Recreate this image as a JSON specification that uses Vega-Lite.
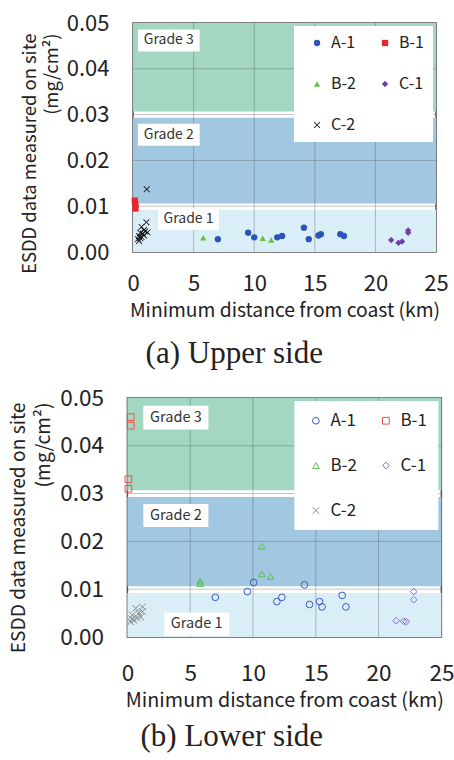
{
  "$schema": "https://vega.github.io/schema/vega-lite/v6.json",
  "background": "white",
  "padding": {"left": 8, "top": 11, "right": 0, "bottom": 0},
  "spacing": 15,
  "center": true,
  "resolve": {"scale": {"color": "independent", "shape": "independent", "fill": "independent"}, "legend": {"color": "independent", "shape": "independent", "fill": "independent"}},
  "config": {
    "font": "Noto Sans CJK JP",
    "view": {"stroke": "#555555", "strokeWidth": 1.5},
    "axis": {"domain": false, "ticks": false, "tickSize": 0, "grid": false, "labelFlush": false, "labelColor": "#222222", "titleColor": "#222222", "titleFontWeight": "normal", "titleFont": "Noto Sans CJK JP", "labelFont": "Noto Sans CJK JP"},
    "title": {"font": "Liberation Serif", "fontWeight": "normal", "color": "#222222"}
  },
  "datasets": {
    "bands": [
      {"band": "Grade 1", "lo": 0, "hi": 0.0092},
      {"band": "Grade 2", "lo": 0.0106, "hi": 0.0293},
      {"band": "Grade 3", "lo": 0.0307, "hi": 0.05}
    ],
    "xgrid": [{"v": 5}, {"v": 10}, {"v": 15}, {"v": 20}],
    "ygrid": [{"v": 0.01}, {"v": 0.02}, {"v": 0.03}, {"v": 0.04}],
    "labelsUpper": [
      {"grade": "Grade 3", "xl": 0.41, "xh": 5.5, "xm": 2.95, "yl": 0.0438, "yh": 0.0486, "ym": 0.0462},
      {"grade": "Grade 2", "xl": 0.41, "xh": 5.5, "xm": 2.95, "yl": 0.0232, "yh": 0.028, "ym": 0.0256},
      {"grade": "Grade 1", "xl": 2.06, "xh": 7.1, "xm": 4.58, "yl": 0.0048, "yh": 0.0096, "ym": 0.0072}
    ],
    "labelsLower": [
      {"grade": "Grade 3", "xl": 1.27, "xh": 6.45, "xm": 3.86, "yl": 0.0434, "yh": 0.0484, "ym": 0.0459},
      {"grade": "Grade 2", "xl": 1.27, "xh": 6.45, "xm": 3.86, "yl": 0.023, "yh": 0.0278, "ym": 0.0254},
      {"grade": "Grade 1", "xl": 2.95, "xh": 8.1, "xm": 5.52, "yl": 0.0002, "yh": 0.0051, "ym": 0.00265}
    ],
    "upper": [
      {"series": "A-1", "d": 7.0, "e": 0.0028},
      {"series": "A-1", "d": 9.5, "e": 0.0042},
      {"series": "A-1", "d": 10.0, "e": 0.0032},
      {"series": "A-1", "d": 11.9, "e": 0.0032},
      {"series": "A-1", "d": 12.3, "e": 0.0035},
      {"series": "A-1", "d": 14.1, "e": 0.0053},
      {"series": "A-1", "d": 14.5, "e": 0.0028},
      {"series": "A-1", "d": 15.3, "e": 0.0036},
      {"series": "A-1", "d": 15.5, "e": 0.0039},
      {"series": "A-1", "d": 17.1, "e": 0.0039},
      {"series": "A-1", "d": 17.4, "e": 0.0035},
      {"series": "B-1", "d": 0.15, "e": 0.0112},
      {"series": "B-1", "d": 0.2, "e": 0.0103},
      {"series": "B-1", "d": 0.2, "e": 0.0095},
      {"series": "B-2", "d": 5.8, "e": 0.0031},
      {"series": "B-2", "d": 10.7, "e": 0.003},
      {"series": "B-2", "d": 11.4, "e": 0.0026},
      {"series": "C-1", "d": 21.3, "e": 0.0026},
      {"series": "C-1", "d": 21.9, "e": 0.002},
      {"series": "C-1", "d": 22.2, "e": 0.0023},
      {"series": "C-1", "d": 22.7, "e": 0.0047},
      {"series": "C-1", "d": 22.7, "e": 0.0042},
      {"series": "C-2", "d": 1.13, "e": 0.0137},
      {"series": "C-2", "d": 1.1, "e": 0.0065},
      {"series": "C-2", "d": 0.7, "e": 0.0055},
      {"series": "C-2", "d": 0.9, "e": 0.0048},
      {"series": "C-2", "d": 0.6, "e": 0.0042},
      {"series": "C-2", "d": 0.8, "e": 0.004},
      {"series": "C-2", "d": 1.0, "e": 0.0045},
      {"series": "C-2", "d": 0.5, "e": 0.0035},
      {"series": "C-2", "d": 0.7, "e": 0.0033},
      {"series": "C-2", "d": 0.9, "e": 0.0036},
      {"series": "C-2", "d": 0.4, "e": 0.0028},
      {"series": "C-2", "d": 0.6, "e": 0.003},
      {"series": "C-2", "d": 1.2, "e": 0.0043},
      {"series": "C-2", "d": 0.5, "e": 0.0024}
    ],
    "lower": [
      {"series": "A-1", "d": 7.0, "e": 0.0083},
      {"series": "A-1", "d": 9.55, "e": 0.0095},
      {"series": "A-1", "d": 10.05, "e": 0.0114},
      {"series": "A-1", "d": 11.9, "e": 0.0074},
      {"series": "A-1", "d": 12.3, "e": 0.0083},
      {"series": "A-1", "d": 14.1, "e": 0.0109},
      {"series": "A-1", "d": 14.5, "e": 0.0068},
      {"series": "A-1", "d": 15.3, "e": 0.0074},
      {"series": "A-1", "d": 15.5, "e": 0.0063},
      {"series": "A-1", "d": 17.1, "e": 0.0087},
      {"series": "A-1", "d": 17.4, "e": 0.0063},
      {"series": "B-1", "d": 0.27, "e": 0.046},
      {"series": "B-1", "d": 0.27, "e": 0.0442},
      {"series": "B-1", "d": 0.08, "e": 0.033},
      {"series": "B-1", "d": 0.08, "e": 0.031},
      {"series": "B-2", "d": 5.8, "e": 0.0117},
      {"series": "B-2", "d": 5.8, "e": 0.0112},
      {"series": "B-2", "d": 10.7, "e": 0.019},
      {"series": "B-2", "d": 10.7, "e": 0.0132},
      {"series": "B-2", "d": 11.4, "e": 0.0127},
      {"series": "C-1", "d": 21.4, "e": 0.0034},
      {"series": "C-1", "d": 22.0, "e": 0.0033},
      {"series": "C-1", "d": 22.2, "e": 0.0032},
      {"series": "C-1", "d": 22.8, "e": 0.0095},
      {"series": "C-1", "d": 22.8, "e": 0.0078},
      {"series": "C-2", "d": 1.2, "e": 0.0063},
      {"series": "C-2", "d": 0.66, "e": 0.006},
      {"series": "C-2", "d": 0.4, "e": 0.0046},
      {"series": "C-2", "d": 1.06, "e": 0.0042},
      {"series": "C-2", "d": 0.53, "e": 0.0035},
      {"series": "C-2", "d": 0.8, "e": 0.004},
      {"series": "C-2", "d": 0.27, "e": 0.0032},
      {"series": "C-2", "d": 1.2, "e": 0.0053},
      {"series": "C-2", "d": 0.9, "e": 0.005},
      {"series": "C-2", "d": 0.35, "e": 0.0038}
    ]
  },
  "vconcat": [
    {
      "width": 303,
      "height": 229,
      "title": {"text": "(a) Upper side", "orient": "bottom", "anchor": "middle", "frame": "bounds", "fontSize": 31, "offset": 19},
      "layer": [
        {
          "data": {"name": "bands"},
          "mark": {"type": "rect"},
          "encoding": {
            "x": {"datum": 0, "type": "quantitative", "scale": {"domain": [0, 25], "nice": false}, "axis": {"values": [0, 5, 10, 15, 20, 25], "labelFontSize": 22, "labelPadding": 21, "title": "Minimum distance from coast (km)", "titleFontSize": 19.3, "titlePadding": 7}},
            "x2": {"datum": 25},
            "y": {"field": "lo", "type": "quantitative", "scale": {"domain": [0, 0.05], "nice": false}, "axis": {"values": [0, 0.01, 0.02, 0.03, 0.04, 0.05], "format": ".2f", "labelFontSize": 22, "labelPadding": 24, "title": ["ESDD data measured on site", "(mg/cm²)"], "titleFontSize": 18.4, "titleLineHeight": 22, "titlePadding": 5, "titleAlign": "right", "titleY": 10}},
            "y2": {"field": "hi"},
            "fill": {"field": "band", "type": "nominal", "scale": {"domain": ["Grade 1", "Grade 2", "Grade 3"], "range": ["#d9eef6", "#a2c7e1", "#a3d7c1"]}, "legend": null}
          }
        },
        {
          "data": {"name": "xgrid"},
          "mark": {"type": "rule", "color": "#505050", "opacity": 0.35, "strokeWidth": 1},
          "encoding": {"x": {"field": "v", "type": "quantitative"}}
        },
        {
          "data": {"name": "ygrid"},
          "mark": {"type": "rule", "color": "#505050", "opacity": 0.35, "strokeWidth": 1},
          "encoding": {"y": {"field": "v", "type": "quantitative"}}
        },
        {
          "data": {"name": "labelsUpper"},
          "mark": {"type": "rect", "color": "white"},
          "encoding": {
            "x": {"field": "xl", "type": "quantitative"},
            "x2": {"field": "xh"},
            "y": {"field": "yl", "type": "quantitative"},
            "y2": {"field": "yh"}
          }
        },
        {
          "data": {"name": "labelsUpper"},
          "mark": {"type": "text", "fontSize": 14, "color": "#333333", "align": "center", "baseline": "middle"},
          "encoding": {
            "x": {"field": "xm", "type": "quantitative"},
            "y": {"field": "ym", "type": "quantitative"},
            "text": {"field": "grade"}
          }
        },
        {
          "data": {"name": "upper"},
          "mark": {"type": "point", "filled": true, "size": 40, "opacity": 1},
          "encoding": {
            "x": {"field": "d", "type": "quantitative"},
            "y": {"field": "e", "type": "quantitative"},
            "color": {"field": "series", "type": "nominal", "scale": {"domain": ["A-1", "B-1", "B-2", "C-1", "C-2"], "range": ["#2b54b8", "#e8262b", "#6cbf45", "#6f3fa5", "#111111"]},
              "legend": {"title": null, "orient": "top-right", "offset": 3, "direction": "horizontal", "columns": 2, "fillColor": "white", "padding": 9, "symbolOffset": 6, "rowPadding": 25, "columnPadding": 15, "labelFontSize": 16, "labelFont": "Noto Sans CJK JP", "labelColor": "#222222", "symbolSize": 40, "labelOffset": 6}},
            "shape": {"field": "series", "type": "nominal", "scale": {"domain": ["A-1", "B-1", "B-2", "C-1", "C-2"], "range": ["circle", "square", "triangle-up", "diamond", "M-1,-0.82L-0.82,-1L0,-0.18L0.82,-1L1,-0.82L0.18,0L1,0.82L0.82,1L0,0.18L-0.82,1L-1,0.82L-0.18,0Z"]}}
          }
        }
      ]
    },
    {
      "width": 314,
      "height": 239,
      "title": {"text": "(b) Lower side", "orient": "bottom", "anchor": "middle", "frame": "bounds", "fontSize": 31, "offset": 12},
      "layer": [
        {
          "data": {"name": "bands"},
          "mark": {"type": "rect"},
          "encoding": {
            "x": {"datum": 0, "type": "quantitative", "scale": {"domain": [0, 25], "nice": false}, "axis": {"values": [0, 5, 10, 15, 20, 25], "labelFontSize": 22.5, "labelPadding": 25, "title": "Minimum distance from coast (km)", "titleFontSize": 19.8, "titlePadding": 6}},
            "x2": {"datum": 25},
            "y": {"field": "lo", "type": "quantitative", "scale": {"domain": [0, 0.05], "nice": false}, "axis": {"values": [0, 0.01, 0.02, 0.03, 0.04, 0.05], "format": ".2f", "labelFontSize": 22.5, "labelPadding": 24, "title": ["ESDD data measured on site", "(mg/cm²)"], "titleFontSize": 19.2, "titleLineHeight": 25, "titlePadding": 6, "titleAlign": "right", "titleY": 4}},
            "y2": {"field": "hi"},
            "fill": {"field": "band", "type": "nominal", "scale": {"domain": ["Grade 1", "Grade 2", "Grade 3"], "range": ["#d9eef6", "#a2c7e1", "#a3d7c1"]}, "legend": null}
          }
        },
        {
          "data": {"name": "xgrid"},
          "mark": {"type": "rule", "color": "#505050", "opacity": 0.35, "strokeWidth": 1},
          "encoding": {"x": {"field": "v", "type": "quantitative"}}
        },
        {
          "data": {"name": "ygrid"},
          "mark": {"type": "rule", "color": "#505050", "opacity": 0.35, "strokeWidth": 1},
          "encoding": {"y": {"field": "v", "type": "quantitative"}}
        },
        {
          "data": {"name": "labelsLower"},
          "mark": {"type": "rect", "color": "white"},
          "encoding": {
            "x": {"field": "xl", "type": "quantitative"},
            "x2": {"field": "xh"},
            "y": {"field": "yl", "type": "quantitative"},
            "y2": {"field": "yh"}
          }
        },
        {
          "data": {"name": "labelsLower"},
          "mark": {"type": "text", "fontSize": 14.5, "color": "#333333", "align": "center", "baseline": "middle"},
          "encoding": {
            "x": {"field": "xm", "type": "quantitative"},
            "y": {"field": "ym", "type": "quantitative"},
            "text": {"field": "grade"}
          }
        },
        {
          "data": {"name": "lower"},
          "mark": {"type": "point", "filled": false, "size": 45, "strokeWidth": 1, "opacity": 1},
          "encoding": {
            "x": {"field": "d", "type": "quantitative"},
            "y": {"field": "e", "type": "quantitative"},
            "color": {"field": "series", "type": "nominal", "scale": {"domain": ["A-1", "B-1", "B-2", "C-1", "C-2"], "range": ["#3a5cc0", "#f0504a", "#5cbf50", "#8c6cc8", "#888888"]},
              "legend": {"title": null, "orient": "top-right", "offset": 3, "direction": "horizontal", "columns": 2, "fillColor": "white", "padding": 11, "symbolOffset": 2, "rowPadding": 27, "columnPadding": 18, "labelFontSize": 17, "labelFont": "Noto Sans CJK JP", "labelColor": "#222222", "symbolSize": 45, "labelOffset": 6, "symbolStrokeWidth": 1}},
            "shape": {"field": "series", "type": "nominal", "scale": {"domain": ["A-1", "B-1", "B-2", "C-1", "C-2"], "range": ["circle", "square", "triangle-up", "diamond", "M-1,-1L1,1M-1,1L1,-1"]}}
          }
        }
      ]
    }
  ]
}
